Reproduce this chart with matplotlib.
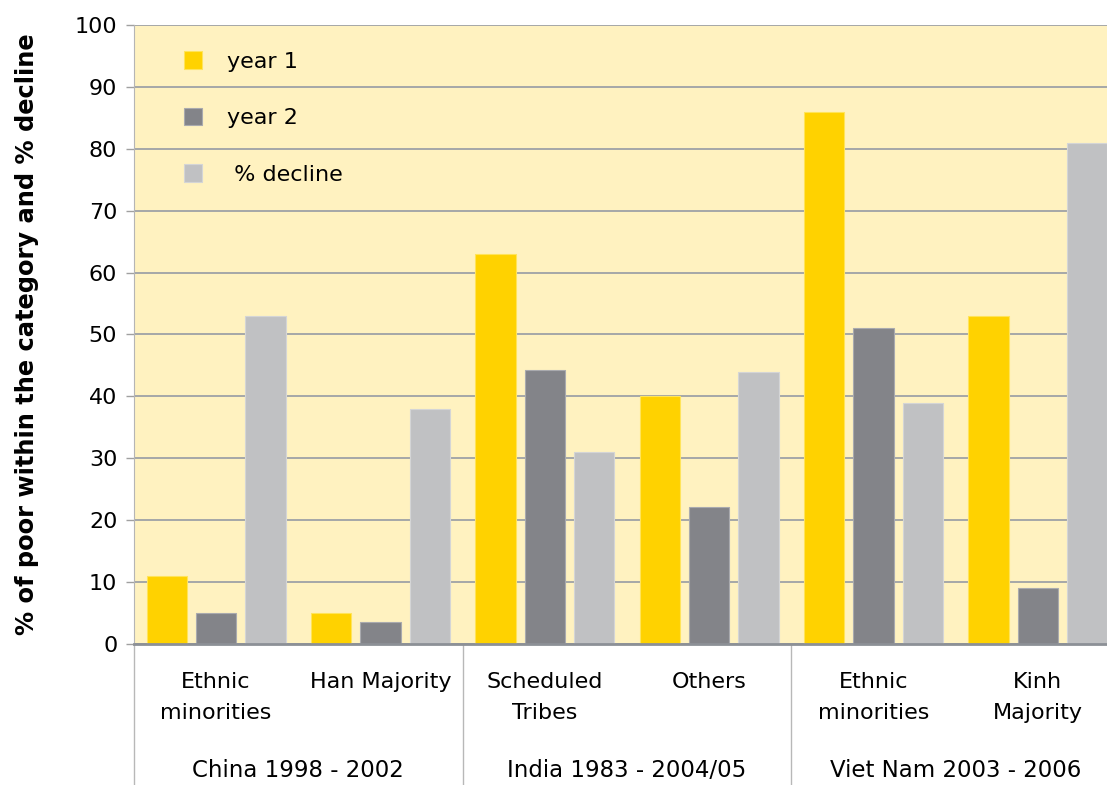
import matplotlib

matplotlib.use("Agg")
import matplotlib.pyplot as plt
import matplotlib.transforms as mtransforms
import numpy as np

# data
categories = ["Ethnic\nminorities", "Han Majority", "Scheduled\nTribes",
              "Others", "Ethnic\nminorities", "Kinh\nMajority"]
groups = ["China 1998 - 2002", "India 1983 - 2004/05", "Viet Nam 2003 - 2006"]
year1 = [11, 5, 63, 40, 86, 53]
year2 = [5, 3.5, 44.3, 22.2, 51, 9]
decline = [53, 38, 31, 44, 39, 81]

series = [("year 1", year1, "#FFD200", "#FFE45A"),
          ("year 2", year2, "#838489", "#A9AAAE"),
          (" % decline", decline, "#C0C1C3", "#D4D5D6")]

plt.rcParams["font.family"] = ["DejaVu Sans"]

fig = plt.figure(figsize=(11.07, 7.85), dpi=100)
# plot area runs a little past the right edge of the picture
ax = fig.add_axes([0.121, 0.1796, 0.8907, 0.7886])
ax.set_facecolor("#FFF2C0")

x = np.arange(len(categories))
width = 0.245
offsets = [-0.3, 0, 0.3]
for (label, vals, color, edge), off in zip(series, offsets):
    ax.bar(x + off, vals, width, color=color, edgecolor=edge, linewidth=0.8,
           label=label, zorder=3)

ax.set_xlim(-0.5, len(categories) - 0.5)
ax.set_ylim(0, 100)
ax.set_yticks(np.arange(0, 101, 10))
ax.yaxis.grid(True, color="#9EA2A6", linewidth=1.3, zorder=0)
ax.set_axisbelow(True)
ax.set_xticks([])
ax.tick_params(axis="y", labelsize=16, length=6, width=1, color="#A0A0A0", pad=6)

for side in ["top", "right"]:
    ax.spines[side].set_visible(False)
ax.spines["left"].set_color("#B5B5B5")
ax.spines["bottom"].set_color("#8C9096")
ax.spines["bottom"].set_linewidth(2)
ax.spines["bottom"].set_zorder(4)

ax.set_ylabel("% of poor within the category and % decline", fontsize=17.4,
              fontweight="bold", labelpad=26)

# multi-level category axis
trans = mtransforms.blended_transform_factory(ax.transData, ax.transAxes)
for i, cat in enumerate(categories):
    ax.text(i, -0.045, cat, transform=trans, ha="center", va="top",
            fontsize=16, multialignment="center", linespacing=1.7)
for g, name in enumerate(groups):
    ax.text(2 * g + 0.5, -0.204, name, transform=trans, ha="center",
            va="center", fontsize=16.5)
for b in [-0.5, 1.5, 3.5]:
    ax.plot([b, b], [0, -0.23], transform=trans, color="#B8B8B8",
            linewidth=1, clip_on=False)

leg = ax.legend(loc="upper left", bbox_to_anchor=(0.03, 0.99), frameon=False,
                fontsize=16, handlelength=0.85, handleheight=0.85,
                labelspacing=1.62, handletextpad=1.1)

fig.savefig("out.png", dpi=100)
